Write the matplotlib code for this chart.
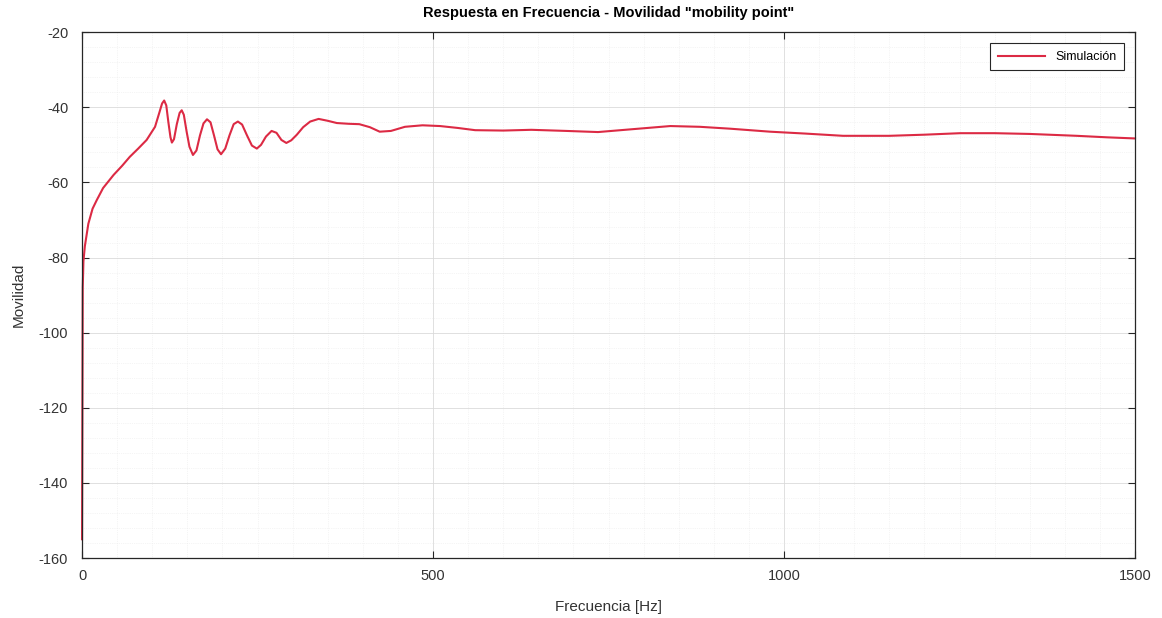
import numpy as np
import matplotlib.pyplot as plt
from matplotlib.ticker import MultipleLocator

# Frequency response
freq = [0, 1, 2, 4, 9, 15, 21, 30, 45, 57, 68, 80, 92, 104, 110, 114, 117, 120,
        123, 126, 128, 131, 135, 139, 142, 145, 149, 153, 158, 163, 168, 173,
        178, 183, 188, 193, 198, 204, 210, 216, 222, 228, 235, 242, 249, 255,
        262, 270, 277, 284, 291, 298, 306, 315, 325, 337, 350, 363, 380, 395,
        410, 424, 440, 460, 485, 510, 535, 560, 600, 640, 690, 735, 780, 838,
        880, 923, 980, 1030, 1084, 1150, 1200, 1251, 1300, 1350, 1417, 1460,
        1500]
mobility = [-155, -88, -81, -77, -71, -67, -64.7, -61.5, -58, -55.6, -53.2,
            -51, -48.7, -45.2, -41.5, -39, -38.2, -39.5, -44, -48, -49.4,
            -48.5, -44.5, -41.5, -40.8, -42, -46.5, -50.5, -52.7, -51.5,
            -47.5, -44.3, -43.2, -44, -47.5, -51.2, -52.5, -51, -47.5, -44.5,
            -43.8, -44.6, -47.5, -50.2, -51, -50, -47.8, -46.3, -46.8, -48.7,
            -49.5, -48.8, -47.3, -45.3, -43.8, -43.1, -43.6, -44.2, -44.4,
            -44.5, -45.3, -46.5, -46.3, -45.2, -44.8, -45.0, -45.5, -46.1,
            -46.2, -46.0, -46.3, -46.6, -45.9, -45.0, -45.2, -45.7, -46.5,
            -47.0, -47.6, -47.6, -47.3, -46.9, -46.9, -47.1, -47.6, -48.0,
            -48.3]

plt.rcParams['font.family'] = ['Liberation Sans', 'DejaVu Sans']
plt.rcParams['axes.unicode_minus'] = False

fig = plt.figure(figsize=(11.62, 6.18), dpi=100)
ax = fig.add_axes([0.0706, 0.097, 0.9062, 0.851])

ax.plot(freq, mobility, color='#dc2a44', lw=1.5, label='Simulación',
        clip_on=False)

ax.set_xlim(0, 1500)
ax.set_ylim(-160, -20)
ax.xaxis.set_major_locator(MultipleLocator(500))
ax.xaxis.set_minor_locator(MultipleLocator(50))
ax.yaxis.set_major_locator(MultipleLocator(20))
ax.yaxis.set_minor_locator(MultipleLocator(4))

ax.grid(which='major', color='#dadada', lw=0.6)
ax.grid(which='minor', color='#ebebeb', lw=0.5, linestyle=':')
ax.set_axisbelow(True)

ax.tick_params(which='major', direction='in', length=5, top=True, right=True,
               labelsize=10.5, labelcolor='#333333', colors='#262626',
               width=0.8)
ax.tick_params(axis='y', which='major', pad=10)
ax.tick_params(axis='x', which='major', pad=8)
ax.tick_params(which='minor', length=0, top=True, right=True)
for s in ax.spines.values():
    s.set_color('#262626')
    s.set_linewidth(0.9)

ax.set_xlabel('Frecuencia [Hz]', fontsize=11, color='#333333', labelpad=12)
ax.set_ylabel('Movilidad', fontsize=11, color='#333333', labelpad=9)
ax.set_title('Respuesta en Frecuencia - Movilidad "mobility point"',
             fontsize=10.5, fontweight='bold', pad=11)

leg = ax.legend(loc='upper right', fontsize=9, fancybox=False,
                edgecolor='#262626', framealpha=1, borderpad=0.6,
                handlelength=3.8, borderaxespad=0.9)
leg.get_frame().set_linewidth(0.8)

fig.savefig('out.png', dpi=100)
